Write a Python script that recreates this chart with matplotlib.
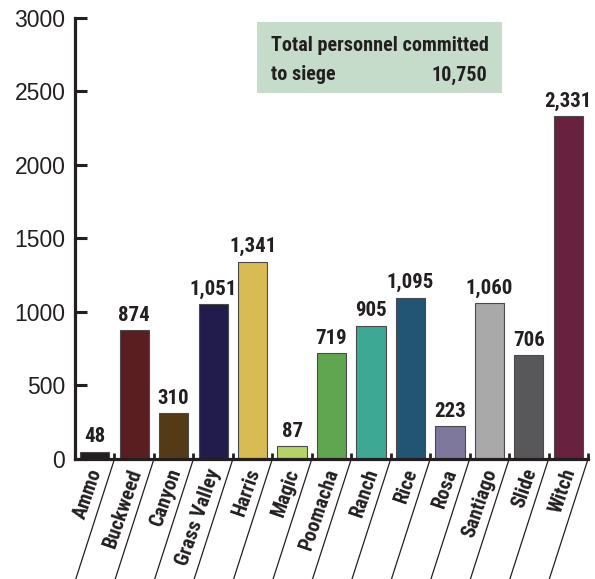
import matplotlib
matplotlib.use("Agg")
import matplotlib.pyplot as plt
from matplotlib.patches import Rectangle

# data
fires = ["Ammo", "Buckweed", "Canyon", "Grass Valley", "Harris", "Magic",
         "Poomacha", "Ranch", "Rice", "Rosa", "Santiago", "Slide", "Witch"]
personnel = [48, 874, 310, 1051, 1341, 87, 719, 905, 1095, 223, 1060, 706, 2331]
colors = ["#231f20", "#5a1e20", "#553a18", "#211c4b", "#d8bb52", "#b4d266",
          "#60a54f", "#3da893", "#225573", "#7d789c", "#a9a9aa", "#58585a",
          "#68213f"]
yticks = [0, 500, 1000, 1500, 2000, 2500, 3000]
total_label = "10,750"

cond = ["Roboto Condensed", "Saira SemiCondensed", "DejaVu Sans"]
ink = "#231f20"

fig = plt.figure(figsize=(5.95, 5.79), dpi=100)
ax = fig.add_axes([0.1261, 0.2073, 0.8622, 0.7617])

x = list(range(len(fires)))
ax.bar(x, personnel, width=0.74, color=colors, edgecolor="#4a4a4a", linewidth=0.8, zorder=2)

for xi, v in zip(x, personnel):
    ax.annotate(f"{v:,}", xy=(xi, v), xytext=(0, 4), textcoords="offset points",
                ha="center", va="bottom", fontsize=15, fontweight="bold",
                family=cond, color=ink)

ax.set_xlim(-0.5, len(fires) - 0.5)
ax.set_ylim(0, 3000)
ax.set_yticks(yticks)
ax.set_yticklabels([str(t) for t in yticks], fontsize=16.5,
                   family=["Liberation Sans", "DejaVu Sans"], color=ink)
ax.tick_params(axis="y", direction="in", length=8.5, width=2.2, color=ink, pad=7)

# category boundaries as ticks
bounds = [i + 0.5 for i in x]
ax.set_xticks(bounds)
ax.set_xticklabels([])
ax.tick_params(axis="x", direction="in", length=4.5, width=2, color=ink)

for side in ["top", "right"]:
    ax.spines[side].set_visible(False)
for side in ["left", "bottom"]:
    ax.spines[side].set_linewidth(2.3)
    ax.spines[side].set_color(ink)
    ax.spines[side].set_capstyle("projecting")

# slanted separator lines and rotated labels
px = 0.72
for b in bounds:
    ax.annotate("", xy=(b, 0), xytext=(-40 * px, -124 * px), textcoords="offset points",
                arrowprops=dict(arrowstyle="-", lw=0.9, color=ink, shrinkA=0, shrinkB=0),
                annotation_clip=False)
for xi, name in zip(x, fires):
    ax.annotate(name, xy=(xi, 0), xytext=(2 * px, -10 * px), textcoords="offset points",
                rotation=71, rotation_mode="anchor", ha="right", va="center",
                fontsize=14.5, fontweight="bold", family=cond, color=ink,
                annotation_clip=False)

# info box
fig.patches.append(Rectangle((0.432, 0.8394), 0.4117, 0.1226, transform=fig.transFigure,
                             facecolor="#c6dccb", edgecolor="none", zorder=0))
fig.text(0.4555, 0.9206, "Total personnel committed", fontsize=14.5, fontweight="bold",
         family=cond, color=ink, va="center", ha="left")
fig.text(0.4555, 0.8705, "to siege", fontsize=14.5, fontweight="bold",
         family=cond, color=ink, va="center", ha="left")
fig.text(0.8185, 0.8705, total_label, fontsize=14.5, fontweight="bold",
         family=cond, color=ink, va="center", ha="right")

fig.savefig("out.png", dpi=100)
